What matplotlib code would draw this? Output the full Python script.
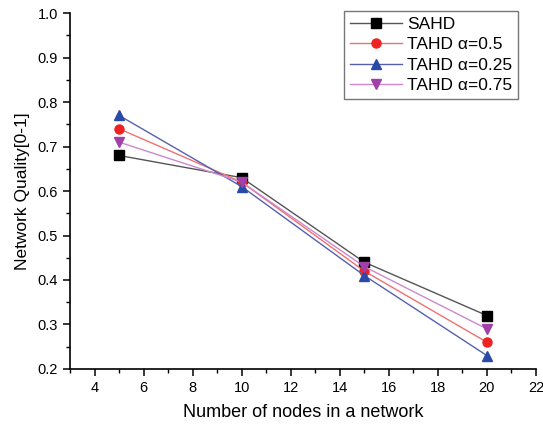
import matplotlib
matplotlib.use("Agg")
import matplotlib.pyplot as plt
from matplotlib.ticker import MultipleLocator

plt.rcParams['font.family'] = ['Liberation Sans', 'DejaVu Sans']

nodes = [5, 10, 15, 20]
sahd = [0.68, 0.63, 0.44, 0.32]
tahd_05 = [0.74, 0.62, 0.42, 0.26]
tahd_025 = [0.77, 0.61, 0.41, 0.23]
tahd_075 = [0.71, 0.62, 0.43, 0.29]

series = [
    ("SAHD", sahd, "s", "#555555", "black"),
    ("TAHD \u03b1=0.5", tahd_05, "o", "#f07070", "#ee2222"),
    ("TAHD \u03b1=0.25", tahd_025, "^", "#5560b0", "#2a4aa8"),
    ("TAHD \u03b1=0.75", tahd_075, "v", "#cc88cc", "#a040a8"),
]

fig = plt.figure(figsize=(5.43, 4.25), dpi=100)
ax = fig.add_axes([0.129, 0.132, 0.858, 0.837])

for label, vals, m, lc, mc in series:
    ax.plot(nodes, vals, color=lc, lw=1.0, marker=m, markersize=6.5,
            markerfacecolor=mc, markeredgecolor=mc, label=label)

ax.set_xlim(3, 22)
ax.set_ylim(0.2, 1.0)
ax.xaxis.set_minor_locator(MultipleLocator(1))
ax.yaxis.set_major_locator(MultipleLocator(0.1))
ax.yaxis.set_minor_locator(MultipleLocator(0.05))
ax.set_xticks(range(4, 23, 2))
ax.yaxis.set_major_formatter(matplotlib.ticker.FormatStrFormatter('%.1f'))

for s in ['top', 'right']:
    ax.spines[s].set_visible(False)
for s in ['left', 'bottom']:
    ax.spines[s].set_linewidth(1.2)
ax.tick_params(which='major', direction='out', length=5, width=1.1, labelsize=10.5)
ax.tick_params(which='minor', direction='out', length=3, width=1.0)

ax.set_xlabel("Number of nodes in a network", fontsize=13, labelpad=7)
ax.set_ylabel("Network Quality[0-1]", fontsize=12.5, labelpad=6)

leg = ax.legend(loc='upper left', bbox_to_anchor=(335 / 543, 1 - 2 / 425),
                bbox_transform=fig.transFigure, fontsize=12.5, frameon=True,
                fancybox=False, edgecolor='#777777', framealpha=1,
                handlelength=3.0, borderpad=0.35, labelspacing=0.3,
                handletextpad=0.3, markerscale=1.0)
leg.get_frame().set_linewidth(1.0)

fig.savefig("out.png", dpi=100)
